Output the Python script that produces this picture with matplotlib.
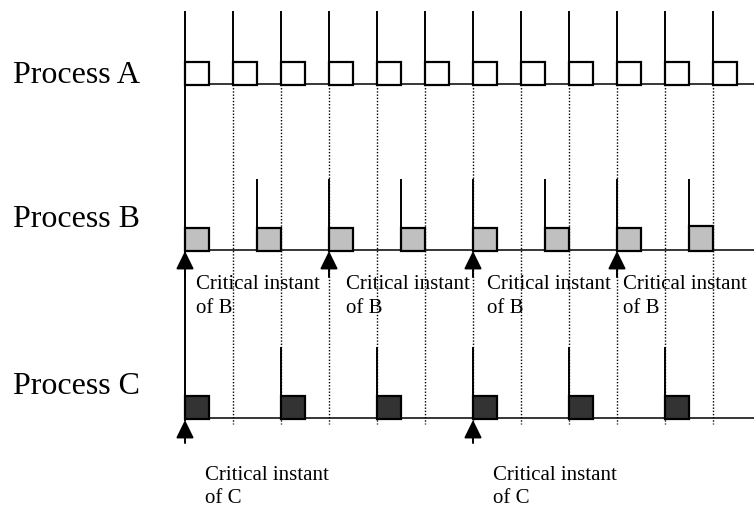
import matplotlib
matplotlib.use('Agg')
import matplotlib.pyplot as plt
from matplotlib.patches import Rectangle

plt.rcParams['font.family'] = ['Liberation Serif', 'DejaVu Serif']

# Task set, time unit = half of A's period
processes = ['Process A', 'Process B', 'Process C']
periods = [2, 3, 4]
exec_times = [1, 1, 1]
fills = ['white', '#c0c0c0', '#333333']
horizon = 23.7

# relative box heights of B's jobs (the last one is drawn a bit taller)
b_job_heights = [1, 1, 1, 1, 1, 1, 1, 1.1]

# critical instants and where their captions start
crit_b = [0, 6, 12, 18]
crit_c = [0, 12]
crit_b_text_x = [0.45, 6.7, 12.6, 18.25]
crit_c_text_x = [0.85, 12.85]

# Layout (vertical positions in pixel rows of the figure)
baselines = [84, 250, 418]
release_tops = [12, 180, 348]
box_h = 23
label_base = [83, 227, 394]

fig = plt.figure(figsize=(7.54, 5.07), dpi=100)
ax = fig.add_axes([0, 0, 1, 1])
ax.set_xlim(-185 / 24, (754 - 185) / 24)
ax.set_ylim(507, 0)
ax.axis('off')

# dotted guides at A's period boundaries
for t in range(periods[0], int(horizon), periods[0]):
    ax.plot([t, t], [62, 424], color='black', lw=1.0, ls=(0, (1, 1.3)), zorder=1)

# main time axis on the left
ax.plot([0, 0], [release_tops[0], baselines[2] + 2], color='black', lw=1.4, zorder=3)

for i, name in enumerate(processes):
    base = baselines[i]
    ax.plot([0, horizon], [base, base], color='black', lw=1.1, zorder=2)
    ax.text(-7.15, label_base[i], name, fontsize=23, va='baseline', ha='left')
    k = 0
    t = 0
    while t < horizon - 1:
        h = box_h
        if i == 1:
            h = box_h * b_job_heights[k]
        ax.add_patch(Rectangle((t, base - h + 1), exec_times[i], h,
                               facecolor=fills[i], edgecolor='black', lw=1.6, zorder=4))
        if t > 0:
            ax.plot([t, t], [release_tops[i], base], color='black', lw=1.4, zorder=3)
        k += 1
        t = k * periods[i]

arrow = dict(arrowstyle='-|>,head_length=0.55,head_width=0.27', mutation_scale=20,
             color='black', lw=1.4, shrinkA=0, shrinkB=0)

for t, tx in zip(crit_b, crit_b_text_x):
    ax.annotate('', xy=(t, baselines[1] + 1), xytext=(t, 277), arrowprops=arrow, zorder=5)
    ax.text(tx, 289, 'Critical instant', fontsize=15, va='baseline', ha='left')
    ax.text(tx, 313, 'of B', fontsize=15, va='baseline', ha='left')

for t, tx in zip(crit_c, crit_c_text_x):
    ax.annotate('', xy=(t, baselines[2] + 2), xytext=(t, 443), arrowprops=arrow, zorder=5)
    ax.text(tx, 480, 'Critical instant', fontsize=15, va='baseline', ha='left')
    ax.text(tx, 503, 'of C', fontsize=15, va='baseline', ha='left')

fig.savefig('out.png', dpi=100)
